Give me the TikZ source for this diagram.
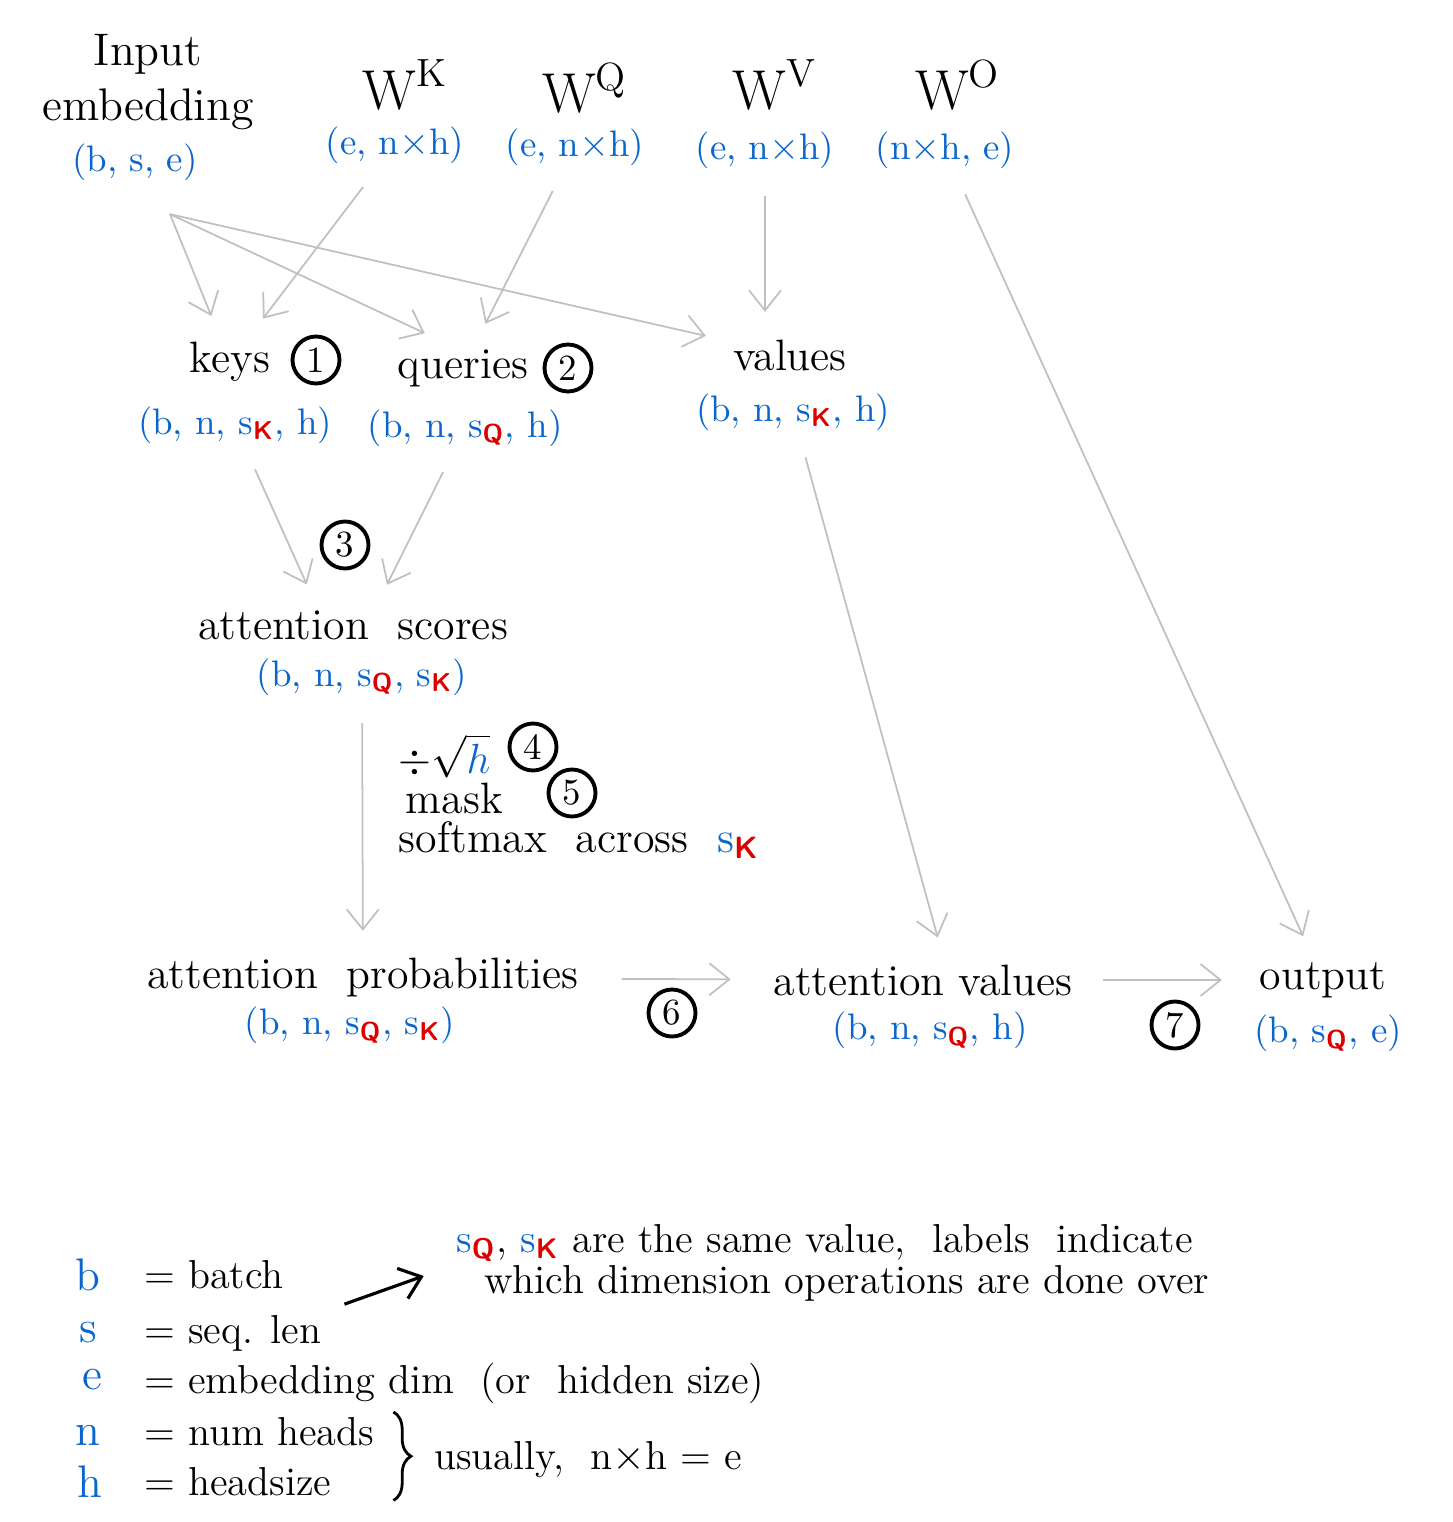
\documentclass[tikz,border=0pt]{standalone}
\usepackage{amssymb, amsmath}
\usepackage{tikz}
\usetikzlibrary{arrows.meta,decorations.pathreplacing}

\definecolor{dimblue}{RGB}{10,102,204}
\definecolor{subred}{RGB}{220,0,0}
\definecolor{flowgray}{RGB}{192,192,192}
\newcommand{\subK}{\textsubscript{\textcolor{subred}{\sffamily\bfseries K}}}
\newcommand{\subQ}{\textsubscript{\textcolor{subred}{\sffamily\bfseries Q}}}

\begin{document}
\begin{tikzpicture}[word/.style={font=\fontsize{12.5}{15}\selectfont, inner sep=2pt},
		dims/.style={text=dimblue, font=\fontsize{10.5}{12}\selectfont, inner sep=2pt},
		wname/.style={font=\fontsize{16}{18}\selectfont},
		stepnum/.style={shape=circle, draw, line width=1.1pt, minimum size=4.7mm, inner sep=0, font=\fontsize{10.5}{12}\selectfont},
		flow/.style={->, draw=flowgray, line width=0.5pt, shorten >=2mm, shorten <=2mm},
		legendtext/.style={font=\fontsize{11.5}{14}\selectfont, anchor=west, inner sep=1pt},
		>={Straight Barb[length=2mm, width=3.2mm]}, scale=1]
				\useasboundingbox (0,0) rectangle (14.53,-15.22);
				% inputs and weights
				\node[word, align=center, font=\fontsize{13}{15.6}\selectfont] (inputemb) at (1.48,-0.82) {Input\\embedding};
				\node[dims] (bse) at (1.35,-1.62) {(b, s, e)};
				\node[wname] (wk) at (4.05,-0.85) {W\textsuperscript{K}};
				\node[dims] (wkdim) at (3.95,-1.45) {(e, n$\times$h)};
				\node[wname] (wq) at (5.85,-0.88) {W\textsuperscript{Q}};
				\node[dims] (wqdim) at (5.75,-1.47) {(e, n$\times$h)};
				\node[wname] (wv) at (7.75,-0.85) {W\textsuperscript{V}};
				\node[dims] (wvdim) at (7.65,-1.50) {(e, n$\times$h)};
				\node[wname] (wo) at (9.58,-0.85) {W\textsuperscript{O}};
				\node[dims] (wodim) at (9.45,-1.50) {(n$\times$h, e)};
				% keys, queries, values
				\node[word] (keys) at (2.30,-3.62) {keys};
				\node[stepnum] (s1) at (3.16,-3.60) {1};
				\node[dims] (keysdim) at (2.35,-4.25) {(b, n, s\subK, h)};
				\node[word] (queries) at (4.63,-3.68) {queries};
				\node[stepnum] (s2) at (5.68,-3.68) {2};
				\node[dims] (queriesdim) at (4.65,-4.28) {(b, n, s\subQ, h)};
				\node[word] (values) at (7.90,-3.55) {values};
				\node[dims] (valuesdim) at (7.93,-4.12) {(b, n, s\subK, h)};
				% scores
				\node[stepnum] (s3) at (3.45,-5.45) {3};
				\node[word] (scores) at (3.53,-6.25) {attention\ \ scores};
				\node[dims] (scoresdim) at (3.62,-6.77) {(b, n, s\subQ, s\subK)};
				\node[word, anchor=west, inner sep=0pt] (divh) at (3.98,-7.56) {$\div\sqrt{\textcolor{dimblue}{h}}$};
				\node[stepnum] (s4) at (5.33,-7.47) {4};
				\node[word, anchor=west, inner sep=0pt] (mask) at (4.05,-7.98) {mask};
				\node[stepnum] (s5) at (5.72,-7.93) {5};
				\node[word, anchor=west, inner sep=0pt] (softmax) at (3.98,-8.40) {softmax\ \ across \ \textcolor{dimblue}{s}\subK};
				% probabilities, attention values, output
				\node[word] (probs) at (3.63,-9.78) {attention\ \ probabilities};
				\node[dims] (probsdim) at (3.50,-10.25) {(b, n, s\subQ, s\subK)};
				\node[stepnum] (s6) at (6.72,-10.13) {6};
				\node[word] (attvals) at (9.23,-9.80) {attention values};
				\node[dims] (attvalsdim) at (9.30,-10.30) {(b, n, s\subQ, h)};
				\node[stepnum] (s7) at (11.75,-10.25) {7};
				\node[word] (output) at (13.23,-9.80) {output};
				\node[dims] (outputdim) at (13.28,-10.33) {(b, s\subQ, e)};
				% connectors
				\draw[flow, shorten <=0pt] ([shift={(0.35,-0.26)}]bse.south) to (keys);
				\draw[flow, shorten <=0pt] ([shift={(0.35,-0.26)}]bse.south) to ([xshift=-2mm]queries.north);
				\draw[flow, shorten <=0pt] ([shift={(0.35,-0.26)}]bse.south) to (values);
				\draw[flow] (wkdim) to (keys);
				\draw[flow] (wqdim) to (queries);
				\draw[flow] (wvdim) to (wvdim |- values.north);
				\draw[flow] (wodim) to (output);
				\draw[flow] (keysdim) to ([xshift=-3.8mm]scores.north);
				\draw[flow] (queriesdim) to ([xshift=2.5mm]scores.north);
				\draw[flow] (scoresdim) to (probs);
				\draw[flow] (valuesdim) to ([xshift=2mm]attvals.north);
				\draw[flow, shorten <=3.5mm, shorten >=3.5mm] (probs) to (attvals);
				\draw[flow, shorten <=2.3mm, shorten >=3mm] (attvals) to (output);
				% legend
				\node[dims, font=\fontsize{13}{15}\selectfont] (lb) at (0.88,-12.75) {b};
				\node[legendtext] (batch) at (1.40,-12.75) {= batch};
				\node[dims, font=\fontsize{13}{15}\selectfont] (ls) at (0.88,-13.33) {s};
				\node[legendtext] (seqlen) at (1.40,-13.33) {= seq. len};
				\node[dims, font=\fontsize{13}{15}\selectfont] (le) at (0.92,-13.80) {e};
				\node[legendtext] (embdim) at (1.40,-13.83) {= embedding dim \ (or \ hidden size)};
				\node[dims, font=\fontsize{13}{15}\selectfont] (ln) at (0.88,-14.35) {n};
				\node[legendtext] (numheads) at (1.40,-14.32) {= num heads};
				\node[dims, font=\fontsize{13}{15}\selectfont] (lh) at (0.90,-14.82) {h};
				\node[legendtext] (headsize) at (1.40,-14.82) {= headsize};
				\node[legendtext] (usually) at (4.30,-14.60) {usually, \ n$\times$h = e};
				\draw[decorate, decoration={brace, amplitude=5pt}, line width=0.8pt] (4.02,-14.12 -| numheads.east) ++(0.15,0) coordinate (bracetop) (bracetop) -- (bracetop |- headsize.south);
				\node[legendtext] (note1) at (4.52,-12.43) {\textcolor{dimblue}{s}\subQ, \textcolor{dimblue}{s}\subK\ are the same value, \ labels \ indicate};
				\node[legendtext] (note2) at (4.80,-12.83) {which dimension operations are done over};
				\draw[->, line width=0.9pt, shorten <=2mm, shorten >=3mm] (seqlen.north east) to (note1.south west);
			\end{tikzpicture}
\end{document}
